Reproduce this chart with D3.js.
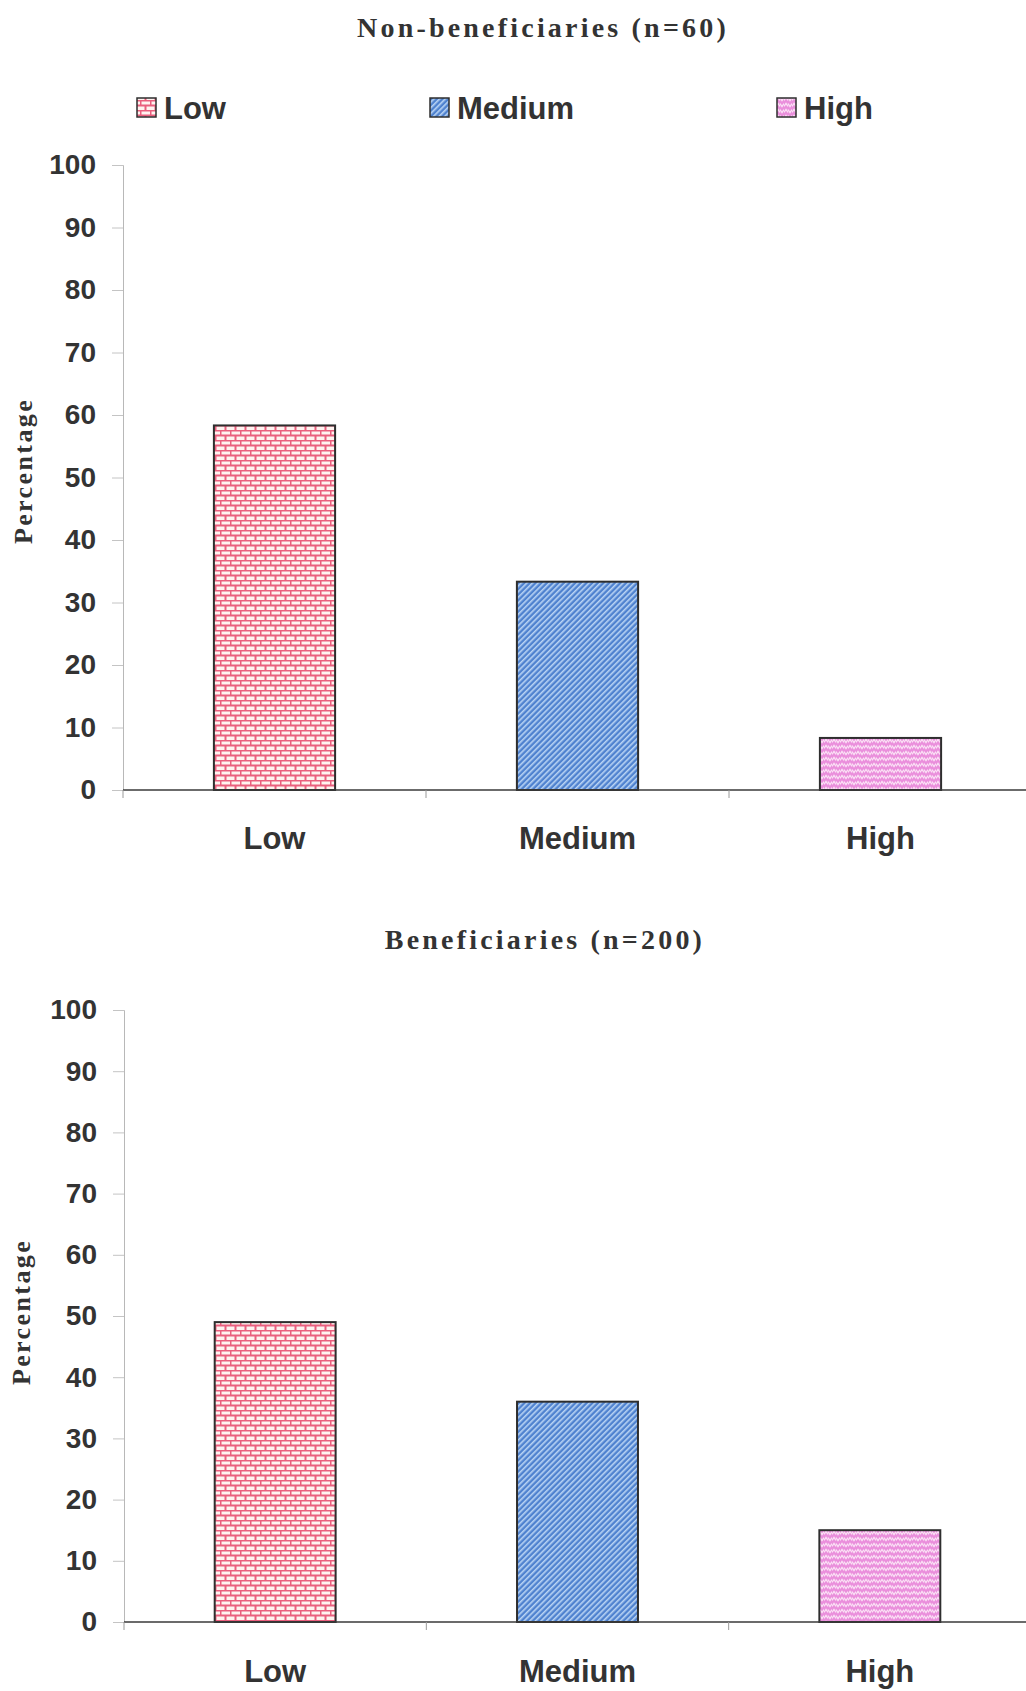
<!DOCTYPE html>
<html>
<head>
<meta charset="utf-8">
<script src="https://cdn.jsdelivr.net/npm/d3@7"></script>
<style>
  html, body { margin: 0; padding: 0; background: #ffffff; }
  svg { display: block; }
</style>
</head>
<body>
<svg id="chart" width="1026" height="1691"></svg>
<script>
// Knowledge level distribution (percent of respondents)
const categories = ["Low", "Medium", "High"];
const nonBeneficiaries = [58.33, 33.33, 8.33];
const beneficiaries = [49, 36, 15];
const yTicks = [0, 10, 20, 30, 40, 50, 60, 70, 80, 90, 100];
const panelTitles = ["Non-beneficiaries (n=60)", "Beneficiaries (n=200)"];
const yAxisLabel = "Percentage";

const svg = d3.select("#chart");
const defs = svg.append("defs");

// Brick fill for "Low"
const brick = defs.append("pattern").attr("id", "pat-low")
  .attr("patternUnits", "userSpaceOnUse").attr("width", 10).attr("height", 10);
brick.append("rect").attr("width", 10).attr("height", 10).attr("fill", "#fff3f0");
brick.append("path")
  .attr("d", "M0,0.5H10 M0,5.5H10 M0.5,0.5V5.5 M5.5,5.5V10.5")
  .attr("stroke", "#ea5f7e").attr("stroke-width", 2).attr("fill", "none");

// Diagonal stripes for "Medium"
const diag = defs.append("pattern").attr("id", "pat-med")
  .attr("patternUnits", "userSpaceOnUse").attr("width", 4).attr("height", 4)
  .attr("patternTransform", "rotate(45)");
diag.append("rect").attr("width", 4).attr("height", 4).attr("fill", "#4f82cf");
diag.append("rect").attr("width", 1.6).attr("height", 4).attr("fill", "#b9d4f4");

// Zig-zag weave for "High"
const weave = defs.append("pattern").attr("id", "pat-high")
  .attr("patternUnits", "userSpaceOnUse").attr("width", 8).attr("height", 6);
weave.append("rect").attr("width", 8).attr("height", 6).attr("fill", "#ea8fdc");
weave.append("path")
  .attr("d", "M0,4.5 L2,1.5 L4,4.5 M4,1.5 L6,4.5 L8,1.5")
  .attr("stroke", "#fbe3f6").attr("stroke-width", 1.3).attr("fill", "none");

const fills = { Low: "url(#pat-low)", Medium: "url(#pat-med)", High: "url(#pat-high)" };

const textColor = "#333333";

function drawPanel(cfg) {
  const g = svg.append("g");
  const y = d3.scaleLinear().domain([0, 100]).range([cfg.y0, cfg.y100]);
  const x = d3.scaleBand().domain(categories).range([cfg.x0, cfg.x1]).padding(0);
  const barW = x.bandwidth() * 0.4;

  // Title
  g.append("text")
    .attr("x", cfg.titleX).attr("y", cfg.titleY)
    .attr("text-anchor", "middle").attr("dominant-baseline", "central")
    .attr("font-family", "'Liberation Serif', 'DejaVu Serif', serif")
    .attr("font-weight", "bold").attr("font-size", 28)
    .attr("letter-spacing", 3.2)
    .attr("fill", textColor)
    .text(cfg.title);

  // Y axis
  const yAxis = d3.axisLeft(y).tickValues(yTicks).tickSize(11).tickPadding(16);
  const ya = g.append("g").attr("transform", `translate(${cfg.x0},0)`).call(yAxis);
  ya.select(".domain").attr("stroke", "#b8b8b8").attr("stroke-width", 1);
  ya.selectAll(".tick line").attr("stroke", "#c4c4c4");
  ya.selectAll(".tick text")
    .attr("font-family", "'Liberation Sans', Arial, sans-serif")
    .attr("font-weight", "bold").attr("font-size", 28)
    .attr("fill", textColor);

  // Y axis title
  g.append("text")
    .attr("transform", `translate(${cfg.labelX},${cfg.labelY}) rotate(-90)`)
    .attr("text-anchor", "middle").attr("dominant-baseline", "central")
    .attr("font-family", "'Liberation Serif', 'DejaVu Serif', serif")
    .attr("font-weight", "bold").attr("font-size", 26)
    .attr("letter-spacing", 2.4)
    .attr("fill", textColor)
    .text(yAxisLabel);

  // Bars
  g.selectAll("rect.bar").data(categories.map((c, i) => ({ c, v: cfg.values[i] })))
    .join("rect").attr("class", "bar")
    .attr("x", d => x(d.c) + (x.bandwidth() - barW) / 2)
    .attr("y", d => y(d.v))
    .attr("width", barW)
    .attr("height", d => y(0) - y(d.v))
    .attr("fill", d => fills[d.c])
    .attr("stroke", "#2e2e2e").attr("stroke-width", 2);

  // X axis with ticks at category boundaries
  g.append("line")
    .attr("x1", cfg.x0).attr("x2", cfg.x1)
    .attr("y1", y(0)).attr("y2", y(0))
    .attr("stroke", "#3a3a3a").attr("stroke-width", 1.4);
  g.selectAll("line.xtick").data(categories)
    .join("line").attr("class", "xtick")
    .attr("x1", d => x(d)).attr("x2", d => x(d))
    .attr("y1", y(0)).attr("y2", y(0) + 8)
    .attr("stroke", "#9a9a9a");
  g.selectAll("text.xlab").data(categories)
    .join("text").attr("class", "xlab")
    .attr("x", d => x(d) + x.bandwidth() / 2)
    .attr("y", cfg.catY)
    .attr("text-anchor", "middle").attr("dominant-baseline", "central")
    .attr("font-family", "'Liberation Sans', Arial, sans-serif")
    .attr("font-weight", "bold").attr("font-size", 31)
    .attr("fill", textColor)
    .text(d => d);
}

// Legend
const legendItems = [
  { c: "Low", x: 137 },
  { c: "Medium", x: 430 },
  { c: "High", x: 777 }
];
const lg = svg.append("g");
lg.selectAll("rect").data(legendItems).join("rect")
  .attr("x", d => d.x).attr("y", 98)
  .attr("width", 19).attr("height", 19)
  .attr("fill", d => fills[d.c])
  .attr("stroke", "#2e2e2e").attr("stroke-width", 1.5);
lg.selectAll("text").data(legendItems).join("text")
  .attr("x", d => d.x + 27).attr("y", 108)
  .attr("dominant-baseline", "central")
  .attr("font-family", "'Liberation Sans', Arial, sans-serif")
  .attr("font-weight", "bold").attr("font-size", 31)
  .attr("fill", textColor)
  .text(d => d.c);

drawPanel({
  title: panelTitles[0], titleX: 543, titleY: 27,
  values: nonBeneficiaries,
  x0: 123, x1: 1032, y0: 790, y100: 165,
  labelX: 23, labelY: 471, catY: 838
});

drawPanel({
  title: panelTitles[1], titleX: 545, titleY: 939,
  values: beneficiaries,
  x0: 124, x1: 1031, y0: 1622, y100: 1010,
  labelX: 21, labelY: 1312, catY: 1671
});
</script>
</body>
</html>
